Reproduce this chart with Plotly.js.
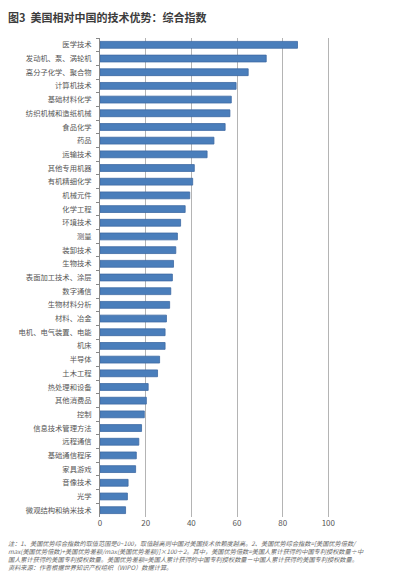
<!DOCTYPE html>
<html>
<head>
<meta charset="utf-8">
<script src="https://cdn.plot.ly/plotly-3.0.1.min.js"></script>
<style>
html,body{margin:0;padding:0;background:#fff;}
#chart{width:400px;height:582px;}
</style>
</head>
<body>
<div id="chart"></div>
<script>
const categories = [
  "医学技术","发动机、泵、涡轮机","高分子化学、聚合物","计算机技术","基础材料化学",
  "纺织机械和造纸机械","食品化学","药品","运输技术","其他专用机器",
  "有机精细化学","机械元件","化学工程","环境技术","测量",
  "装卸技术","生物技术","表面加工技术、涂层","数字通信","生物材料分析",
  "材料、冶金","电机、电气装置、电能","机床","半导体","土木工程",
  "热处理和设备","其他消费品","控制","信息技术管理方法","远程通信",
  "基础通信程序","家具游戏","音像技术","光学","微观结构和纳米技术"
];
const values = [
  86.5, 72.8, 64.9, 59.6, 57.5,
  56.9, 54.8, 49.9, 46.9, 41.3,
  40.6, 39.3, 37.3, 35.3, 33.9,
  33.2, 32.2, 31.7, 31.0, 30.5,
  29.1, 28.5, 28.5, 26.1, 25.2,
  21.1, 20.3, 19.4, 18.2, 17.0,
  15.9, 15.6, 12.3, 12.0, 11.2
];
const tickValues = [0, 20, 40, 60, 80, 100];
const titleText = "图3  美国相对中国的技术优势：综合指数";
const noteLines = [
  "注：1、美国优势综合指数的取值范围是0~100，取值越高则中国对美国技术依赖度越高。2、美国优势综合指数=[美国优势倍数/",
  "max(美国优势倍数)+美国优势差额/max(美国优势差额)]×100÷2。其中，美国优势倍数=美国人累计获得的中国专利授权数量÷中",
  "国人累计获得的美国专利授权数量。美国优势差额=美国人累计获得的中国专利授权数量－中国人累计获得的美国专利授权数量。",
  "资料来源：作者根据世界知识产权组织（WIPO）数据计算。"
];

const W = 400, H = 582;
const M = {l: 100, r: 26, t: 38, b: 65};
const pw = W - M.l - M.r, ph = H - M.t - M.b;
const px2x = px => (px - M.l) / pw;
const py2y = py => (H - M.b - py) / ph;

const annotations = [{
  text: "<i>" + noteLines.join("<br>") + "</i>",
  xref: "paper", yref: "paper",
  x: px2x(6), y: py2y(537),
  xanchor: "left", yanchor: "top",
  align: "left",
  showarrow: false,
  font: {family: "Noto Sans CJK SC", size: 6.2, color: "#6a6a6a"}
}];

const trace = {
  type: "bar",
  orientation: "h",
  y: categories,
  x: values,
  marker: {color: "#4a7ebb", line: {color: "#3d6aa3", width: 0.8}},
  hoverinfo: "none"
};

const layout = {
  width: W, height: H,
  margin: M,
  paper_bgcolor: "#fff",
  plot_bgcolor: "#fff",
  showlegend: false,
  bargap: 0.5,
  font: {family: "Noto Sans CJK SC", color: "#555"},
  title: {
    text: "<b>" + titleText + "</b>",
    xref: "container", yref: "container",
    x: 8 / W, y: 1 - 18 / H,
    xanchor: "left", yanchor: "middle",
    font: {family: "Noto Sans CJK SC", size: 11, color: "#3c3c3c"}
  },
  xaxis: {
    range: [0, 120],
    tickvals: tickValues,
    ticktext: tickValues.map(String),
    showgrid: true,
    gridcolor: "#b4b4b4",
    gridwidth: 1,
    zeroline: false,
    showline: false,
    ticks: "",
    tickfont: {size: 8, color: "#555"},
    fixedrange: true
  },
  yaxis: {
    type: "category",
    autorange: "reversed",
    showline: true,
    linecolor: "#888",
    linewidth: 1,
    ticks: "outside",
    tickson: "boundaries",
    ticklen: 3,
    tickcolor: "#888",
    tickfont: {size: 7.3, color: "#555"},
    ticklabelstandoff: 6,
    showgrid: false,
    fixedrange: true
  },
  annotations: annotations
};

Plotly.newPlot("chart", [trace], layout, {displayModeBar: false, staticPlot: true});
</script>
</body>
</html>
